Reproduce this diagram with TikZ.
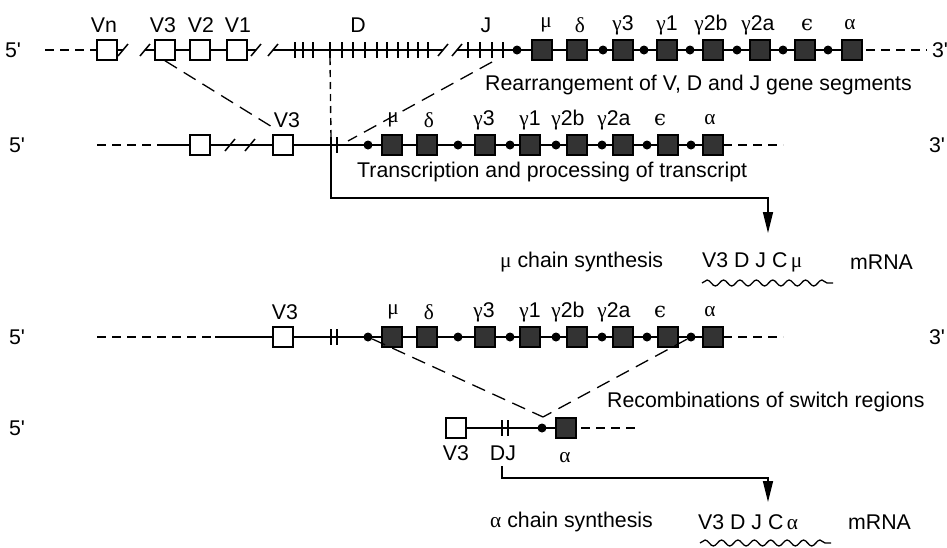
\documentclass[tikz,border=0pt]{standalone}
\usepackage{fontspec}
\setmainfont{Liberation Sans}
\newfontfamily\gk{Liberation Serif}
\newfontfamily\gke{DejaVu Serif}
\usetikzlibrary{arrows.meta,decorations.pathmorphing,calc}
\newcommand{\pr}{\textquotesingle}
\begin{document}
\begin{tikzpicture}[x=1pt,y=-1pt,
  txt/.style={font=\fontsize{21.3}{25}\selectfont, inner sep=0pt},
  strand/.style={line width=1.5pt},
  dstrand/.style={line width=1.5pt, dash pattern=on 9pt off 6pt},
  vseg/.style={draw, line width=1.5pt, fill=white, minimum size=20pt, inner sep=0pt},
  cseg/.style={draw, line width=1.2pt, fill=black!80, minimum size=20pt, inner sep=0pt},
  sdot/.style={circle, fill=black, minimum size=9pt, inner sep=0pt},
  diag/.style={line width=1.3pt, dash pattern=on 14pt off 8pt},
  vdash/.style={line width=1.4pt, dash pattern=on 7pt off 5pt},
  arr/.style={line width=1.5pt, -{Triangle[length=21pt,width=10pt]}},
  wav/.style={line width=1.3pt, decorate, decoration={snake, segment length=16.4pt, amplitude=3pt}},
]
\useasboundingbox (0,0) rectangle (947,547);

% ================= Row 1 =================
\def\ya{50}
\node[txt] (p5a) at (13,\ya) {5\pr};
\node[txt] (p3a) at (940,\ya) {3\pr};
\draw[dstrand] (45,\ya) -- (97,\ya);
\draw[strand] (117,\ya) -- (123,\ya);
\draw[strand] (145,\ya) -- (155,\ya);
\draw[strand] (175,\ya) -- (256,\ya);
\draw[strand] (273,\ya) -- (443,\ya);
\draw[strand] (457,\ya) -- (862,\ya);
\draw[dstrand] (866,\ya) -- (927,\ya);
\foreach \x in {123,145,256,273,443,457}
  \draw[strand] (\x-5,\ya+6) -- (\x+5,\ya-6);
\foreach \x in {295,303,313,342,353,365,377,387,398,408,418,428,468,480,492,503}
  \draw[strand] (\x,\ya-8) -- (\x,\ya+8);
\draw[strand] (330,\ya-8) -- (330,\ya+8);
\coordinate (dtop) at (330,\ya+8);
\node[vseg] (vn) at (107,\ya) {};
\node[vseg] (v3a) at (165,\ya) {};
\node[vseg] (v2a) at (200,\ya) {};
\node[vseg] (v1a) at (237,\ya) {};
\foreach \n/\x in {d0/517,d1/603,d2/644,d3/690,d4/737,d5/783,d6/828}
  \node[sdot] (\n a) at (\x,\ya) {};
\foreach \n/\x in {mu/542,de/577,gc/623,ga/667,gbb/713,gba/760,ep/805,al/852}
  \node[cseg] (\n a) at (\x,\ya) {};
\def\yla{25}
\node[txt] (lvn) at (104,\yla) {Vn};
\node[txt] (lv3a) at (163,\yla) {V3};
\node[txt] (lv2a) at (201,\yla) {V2};
\node[txt] (lv1a) at (238,\yla) {V1};
\node[txt] (lda) at (358,\yla) {D};
\node[txt] (lja) at (486,\yla) {J};
\node[txt] (lmua) at (546,\yla) {{\gk μ}};
\node[txt] (ldea) at (580,\yla) {{\gk δ}};
\node[txt] (lgca) at (623,\yla) {{\gk γ}3};
\node[txt] (lgaa) at (667,\yla) {{\gk γ}1};
\node[txt] (lgbba) at (711,\yla) {{\gk γ}2b};
\node[txt] (lgbaa) at (758,\yla) {{\gk γ}2a};
\node[txt] (lepa) at (807,\yla) {{\gke ϵ}};
\node[txt] (lala) at (850,\yla) {{\gk α}};
\node[txt,anchor=west] (rearr) at (485,85) {Rearrangement of V, D and J gene segments};

% ================= Rows 2 and 3 =================
\foreach \r/\y/\ds in {b/145/157, c/337/215}{
  \node[txt] (p5\r) at (17,\y) {5\pr};
  \node[txt] (p3\r) at (937,\y) {3\pr};
  \draw[strand] (\ds,\y) -- (713,\y);
  \draw[dstrand] (723,\y) -- (783,\y);
  \foreach \x in {331,337}
    \draw[strand] (\x,\y-8) -- (\x,\y+8);
  \foreach \n/\x in {d0/368,d1/458,d2/510,d3/556,d4/602,d5/647,d6/691}
    \node[sdot] (\n\r) at (\x,\y) {};
  \foreach \n/\x in {mu/392,de/427,gc/485,ga/530,gbb/577,gba/623,ep/668,al/713}
    \node[cseg] (\n\r) at (\x,\y) {};
}
% left parts
\draw[dstrand] (97,145) -- (157,145);
\draw[strand] (157,145) -- (230,145);
\draw[strand] (250,145) -- (331,145);
\foreach \x in {230,250}
  \draw[strand] (\x-5,145+6) -- (\x+5,145-6);
\node[vseg] (vxb) at (200,145) {};
\node[vseg] (v3b) at (283,145) {};
\draw[dstrand] (97,337) -- (215,337);
\node[vseg] (v3c) at (283,337) {};
\foreach \r/\yl in {b/120, c/312}{
  \node[txt] (lmu\r) at (393,\yl) {{\gk μ}};
  \node[txt] (lde\r) at (429,\yl) {{\gk δ}};
  \node[txt] (lgc\r) at (484,\yl) {{\gk γ}3};
  \node[txt] (lga\r) at (530,\yl) {{\gk γ}1};
  \node[txt] (lgbb\r) at (568,\yl) {{\gk γ}2b};
  \node[txt] (lgba\r) at (614,\yl) {{\gk γ}2a};
  \node[txt] (lep\r) at (660,\yl) {{\gke ϵ}};
  \node[txt] (lal\r) at (710,\yl) {{\gk α}};
}
\node[txt] (lv3b) at (287,120) {V3};
\node[txt] (lv3c) at (285,312) {V3};

% connectors row1 -> row2
\coordinate (jb) at (492,62);
\coordinate (r2j) at (348,141);
\coordinate (r2t) at (331,137);
\draw[diag] (v3a.south) -- ($(lv3b.south west)+(-2,-1)$);
\draw[diag] (jb) -- (r2j);
\draw[vdash] (dtop) -- (r2t);
\node[txt,anchor=west] (transc) at (357,172) {Transcription and processing of transcript};

% mu mRNA
\node[txt,anchor=west] (musyn) at (500,262) {{\gk μ} chain synthesis};
\node[txt,anchor=west] (mumrna) at (702,262) {V3 D J C\,{\gk μ}};
\node[txt,anchor=west] (mumr) at (850,262) {mRNA};
\coordinate (b1s) at (331,153);
\coordinate (b1c) at (768,198);
\coordinate (b1t) at (768,233);
\draw[arr] (b1s) |- (b1c) -- (b1t);
\coordinate (w1s) at (702,283);
\coordinate (w1e) at (833,283);
\draw[wav] (w1s) -- (w1e);

% ================= Row 4 =================
\def\yd{428}
\node[txt] (p5d) at (17,\yd) {5\pr};
\draw[strand] (466,\yd) -- (577,\yd);
\draw[dstrand] (581,\yd) -- (637,\yd);
\foreach \x in {502,508}
  \draw[strand] (\x,\yd-8) -- (\x,\yd+8);
\node[vseg] (v3d) at (456,\yd) {};
\node[sdot] (d0d) at (542,\yd) {};
\node[cseg] (ald) at (566,\yd) {};
\node[txt] (lv3d) at (456,453) {V3};
\node[txt] (ldjd) at (503,453) {DJ};
\node[txt] (lald) at (565,458) {{\gk α}};
\coordinate (xmeet) at ($(d0d)+(1,-11)$);
\draw[diag] (d0c) -- (xmeet);
\draw[diag] (d6c) -- (xmeet);
\node[txt,anchor=west] (recomb) at (607,402) {Recombinations of switch regions};

% alpha mRNA
\node[txt,anchor=west] (alsyn) at (490,522) {{\gk α} chain synthesis};
\node[txt,anchor=west] (almrna) at (698,522) {V3 D J C\,{\gk α}};
\node[txt,anchor=west] (almr) at (848,522) {mRNA};
\coordinate (b2s) at (502,466);
\coordinate (b2c) at (768,478);
\coordinate (b2t) at (768,502);
\draw[arr] (b2s) |- (b2c) -- (b2t);
\coordinate (w2s) at (700,543);
\coordinate (w2e) at (831,543);
\draw[wav] (w2s) -- (w2e);
\end{tikzpicture}
\end{document}
